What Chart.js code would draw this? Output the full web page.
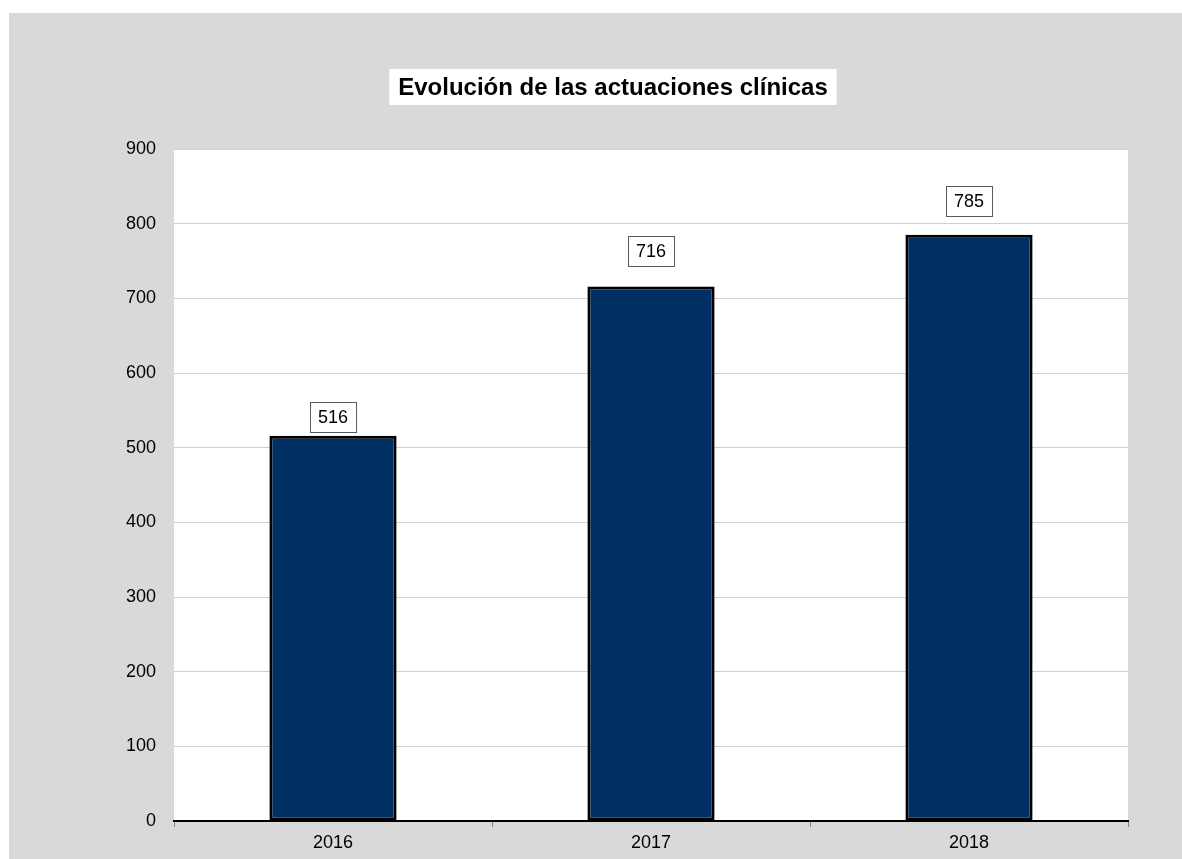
<!DOCTYPE html>
<html>
<head>
<meta charset="utf-8">
<script src="https://cdn.jsdelivr.net/npm/chart.js@4.4.1/dist/chart.umd.min.js"></script>
<style>
  html, body { margin: 0; padding: 0; background: #fff; overflow: hidden; }
  #wrap { width: 1182px; height: 859px; position: relative; }
</style>
</head>
<body>
<div id="wrap"><canvas id="chart_actuaciones"></canvas></div>
<script>
const years = ["2016", "2017", "2018"];
const actuaciones = [516, 716, 785];
const yTicks = [0, 100, 200, 300, 400, 500, 600, 700, 800, 900];
const chartTitle = "Evolución de las actuaciones clínicas";

// gap between bar top and its value box (Excel placed them unevenly)
const labelGap = [4, 20, 19];

const FONT = "'Liberation Sans', Arial, sans-serif";

// gray frame + white plot area
const backgroundPlugin = {
  id: "bgPanel",
  beforeDraw(chart) {
    const ctx = chart.ctx;
    const a = chart.chartArea;
    ctx.save();
    ctx.fillStyle = "#ffffff";
    ctx.fillRect(0, 0, chart.width, chart.height);
    ctx.fillStyle = "#d9d9d9";
    ctx.fillRect(9, 13, chart.width - 9, chart.height - 13);
    ctx.fillStyle = "#ffffff";
    ctx.fillRect(a.left, a.top, a.right - a.left, a.bottom - a.top);
    ctx.restore();
  },
};

// title in a white box
const titlePlugin = {
  id: "boxTitle",
  afterDraw(chart) {
    const ctx = chart.ctx;
    ctx.save();
    ctx.font = "bold 24px " + FONT;
    const w = ctx.measureText(chartTitle).width;
    const cx = 613;
    const cy = 87;
    ctx.fillStyle = "#ffffff";
    ctx.fillRect(cx - w / 2 - 9, 69, w + 18, 36);
    ctx.fillStyle = "#000000";
    ctx.textAlign = "center";
    ctx.textBaseline = "middle";
    ctx.fillText(chartTitle, cx, cy + 1);
    ctx.restore();
  },
};

// value labels above bars, boxed
const valueBoxPlugin = {
  id: "valueBox",
  afterDatasetsDraw(chart) {
    const ctx = chart.ctx;
    const meta = chart.getDatasetMeta(0);
    ctx.save();
    ctx.font = "18px " + FONT;
    ctx.textAlign = "center";
    ctx.textBaseline = "middle";
    meta.data.forEach((bar, i) => {
      const txt = String(actuaciones[i]);
      const w = ctx.measureText(txt).width + 16;
      const h = 30;
      const x = Math.round(bar.x - w / 2) + 0.5;
      const y = Math.round(bar.y - labelGap[i] - h) + 0.5;
      ctx.fillStyle = "#ffffff";
      ctx.fillRect(x, y, w, h);
      ctx.strokeStyle = "#595959";
      ctx.lineWidth = 1;
      ctx.strokeRect(x, y, w, h);
      ctx.fillStyle = "#000000";
      ctx.fillText(txt, bar.x, y + h / 2 + 1);
    });
    ctx.restore();
  },
};

const ctx = document.getElementById("chart_actuaciones").getContext("2d");

new Chart(ctx, {
  type: "bar",
  data: {
    labels: years,
    datasets: [
      {
        data: actuaciones,
        backgroundColor: "#003063",
        borderColor: "#000000",
        borderWidth: 3,
        borderSkipped: false,
        barPercentage: 0.4,
        categoryPercentage: 1,
      },
    ],
  },
  options: {
    responsive: true,
    maintainAspectRatio: false,
    animation: false,
    layout: { padding: { left: 0, top: 149, right: 54, bottom: 0 } },
    plugins: {
      legend: { display: false },
      title: { display: false },
      tooltip: { enabled: false },
    },
    scales: {
      x: {
        grid: {
          display: true,
          drawOnChartArea: false,
          drawTicks: true,
          tickLength: 6,
          color: "#808080",
          offset: true,
        },
        border: { display: true, color: "#000000", width: 2 },
        ticks: {
          color: "#000000",
          font: { family: FONT, size: 18 },
          padding: 5,
        },
        afterFit(scale) {
          scale.height = 38;
        },
      },
      y: {
        min: 0,
        max: 900,
        afterBuildTicks(scale) {
          scale.ticks = yTicks.map((v) => ({ value: v }));
        },
        grid: {
          color: "#d0d0d0",
          lineWidth: 1,
          drawTicks: false,
        },
        border: { display: false },
        ticks: {
          color: "#000000",
          font: { family: FONT, size: 18 },
          padding: 18,
        },
        afterFit(scale) {
          scale.width = 174;
        },
      },
    },
  },
  plugins: [backgroundPlugin, titlePlugin, valueBoxPlugin],
});
</script>
</body>
</html>
